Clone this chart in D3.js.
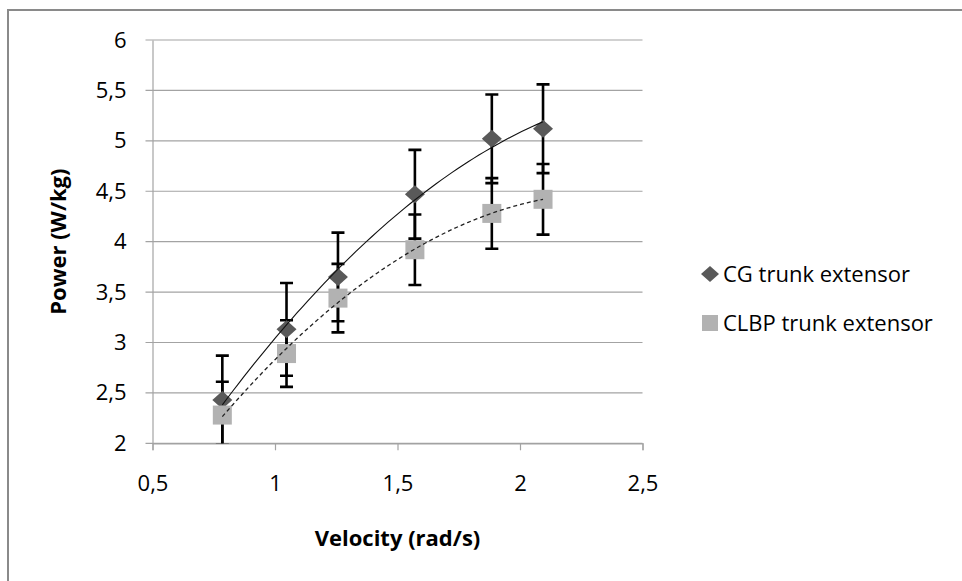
<!DOCTYPE html>
<html>
<head>
<meta charset="utf-8">
<script src="https://cdn.jsdelivr.net/npm/d3@7"></script>
<style>
	body { margin: 0; background: #fff; }
	text { font-family: "Open Sans", sans-serif; fill: #000; }
</style>
</head>
<body>
<div id="chart-area"></div>
<script>

// data
let velocity = [0.785, 1.047, 1.257, 1.571, 1.885, 2.094];
let cgPower = [2.43, 3.13, 3.65, 4.47, 5.02, 5.12];
let cgError = [0.44, 0.46, 0.44, 0.44, 0.44, 0.44];
let clbpPower = [2.28, 2.89, 3.44, 3.92, 4.28, 4.42];
let clbpError = [0.33, 0.33, 0.34, 0.35, 0.35, 0.35];

let seriesNames = ["CG trunk extensor", "CLBP trunk extensor"];

let xTicks = [0.5, 1, 1.5, 2, 2.5];
let xTickLabels = ["0,5", "1", "1,5", "2", "2,5"];
let yTicks = [2, 2.5, 3, 3.5, 4, 4.5, 5, 5.5, 6];
let yTickLabels = ["2", "2,5", "3", "3,5", "4", "4,5", "5", "5,5", "6"];

// margin conventions
let margin = {top: 40, right: 319.5, bottom: 137.7, left: 152.5};
let width = 962 - margin.left - margin.right;
let height = 581 - margin.top - margin.bottom;

let root = d3.select("#chart-area").append("svg")
	.attr("width", 962)
	.attr("height", 581);

// outer chart border (only top and left are inside the picture)
root.append("rect")
	.attr("x", 8)
	.attr("y", 10)
	.attr("width", 980)
	.attr("height", 600)
	.attr("fill", "none")
	.attr("stroke", "#8a8a8a")
	.attr("stroke-width", 2);

let svg = root.append("g")
	.attr("transform", "translate(" + margin.left + "," + margin.top + ")");

// scales
let x = d3.scaleLinear().domain([0.5, 2.5]).range([0, width]);
let y = d3.scaleLinear().domain([2, 6]).range([height, 0]);

// horizontal gridlines
svg.selectAll(".grid")
	.data(yTicks)
	.enter().append("line")
	.attr("class", "grid")
	.attr("x1", -7)
	.attr("x2", width)
	.attr("y1", d => y(d))
	.attr("y2", d => y(d))
	.attr("stroke", "#a3a3a3")
	.attr("stroke-width", 1.2);

// y axis
let yAxis = svg.append("g")
	.attr("class", "y-axis axis")
	.call(d3.axisLeft(y)
		.tickValues(yTicks)
		.tickFormat((d, i) => yTickLabels[i])
		.tickSize(0)
		.tickPadding(26));
yAxis.select(".domain").attr("stroke", "#a3a3a3").attr("stroke-width", 1.2);
yAxis.selectAll("text").style("font-size", "22px");

// x axis
let xAxis = svg.append("g")
	.attr("class", "x-axis axis")
	.attr("transform", "translate(0," + height + ")")
	.call(d3.axisBottom(x)
		.tickValues(xTicks)
		.tickFormat((d, i) => xTickLabels[i])
		.tickSizeInner(7)
		.tickSizeOuter(7)
		.tickPadding(25));
xAxis.select(".domain").attr("stroke", "#a3a3a3").attr("stroke-width", 1.2);
xAxis.selectAll(".tick line").attr("stroke", "#a3a3a3").attr("stroke-width", 1.2);
xAxis.selectAll("text").style("font-size", "22px");

// axis titles
svg.append("text")
	.attr("x", width / 2)
	.attr("y", height + 103)
	.attr("text-anchor", "middle")
	.style("font-size", "22px")
	.style("font-weight", "bold")
	.text("Velocity (rad/s)");

svg.append("text")
	.attr("transform", "translate(" + (-87) + "," + (height / 2) + ") rotate(-90)")
	.attr("text-anchor", "middle")
	.style("font-size", "22px")
	.style("font-weight", "bold")
	.text("Power (W/kg)");

// clip marks to the plot area
svg.append("clipPath")
	.attr("id", "plot-clip")
	.append("rect")
	.attr("x", -20)
	.attr("y", 0)
	.attr("width", width + 40)
	.attr("height", height);

let plot = svg.append("g").attr("clip-path", "url(#plot-clip)");

let cgData = velocity.map((v, i) => ({x: v, y: cgPower[i], e: cgError[i]}));
let clbpData = velocity.map((v, i) => ({x: v, y: clbpPower[i], e: clbpError[i]}));

// error bars
function drawErrorBars(data, cls) {
	let g = plot.selectAll("." + cls)
		.data(data)
		.enter().append("g")
		.attr("class", cls)
		.attr("stroke", "#000")
		.attr("stroke-width", 2.6);
	g.append("line")
		.attr("x1", d => x(d.x)).attr("x2", d => x(d.x))
		.attr("y1", d => y(d.y + d.e)).attr("y2", d => y(d.y - d.e));
	g.append("line")
		.attr("x1", d => x(d.x) - 6.5).attr("x2", d => x(d.x) + 6.5)
		.attr("y1", d => y(d.y + d.e)).attr("y2", d => y(d.y + d.e));
	g.append("line")
		.attr("x1", d => x(d.x) - 6.5).attr("x2", d => x(d.x) + 6.5)
		.attr("y1", d => y(d.y - d.e)).attr("y2", d => y(d.y - d.e));
}
drawErrorBars(cgData, "cg-err");
drawErrorBars(clbpData, "clbp-err");

// markers
let diamond = (w, h) => "M0," + (-h) + "L" + w + ",0L0," + h + "L" + (-w) + ",0Z";

plot.selectAll(".cg-point")
	.data(cgData)
	.enter().append("path")
	.attr("class", "cg-point")
	.attr("transform", d => "translate(" + x(d.x) + "," + y(d.y) + ")")
	.attr("d", diamond(10, 9))
	.attr("fill", "#595959");

plot.selectAll(".clbp-point")
	.data(clbpData)
	.enter().append("rect")
	.attr("class", "clbp-point")
	.attr("x", d => x(d.x) - 9.5)
	.attr("y", d => y(d.y) - 9.5)
	.attr("width", 19)
	.attr("height", 19)
	.attr("fill", "#b2b2b2");

// polynomial (order 2) trendlines, least squares fit
function quadFit(xs, ys) {
	let n = xs.length;
	let s = [0, 0, 0, 0, 0], t = [0, 0, 0];
	xs.forEach((xv, i) => {
		for (let k = 0; k < 5; k++) s[k] += Math.pow(xv, k);
		for (let k = 0; k < 3; k++) t[k] += ys[i] * Math.pow(xv, k);
	});
	let A = [[s[0], s[1], s[2], t[0]], [s[1], s[2], s[3], t[1]], [s[2], s[3], s[4], t[2]]];
	for (let c = 0; c < 3; c++) {
		for (let r = c + 1; r < 3; r++) {
			let f = A[r][c] / A[c][c];
			for (let k = c; k < 4; k++) A[r][k] -= f * A[c][k];
		}
	}
	let coef = [0, 0, 0];
	for (let r = 2; r >= 0; r--) {
		let v = A[r][3];
		for (let k = r + 1; k < 3; k++) v -= A[r][k] * coef[k];
		coef[r] = v / A[r][r];
	}
	return xv => coef[0] + coef[1] * xv + coef[2] * xv * xv;
}

let line = d3.line().x(d => x(d[0])).y(d => y(d[1]));
let xs = d3.range(0, 61).map(i => velocity[0] + (velocity[5] - velocity[0]) * i / 60);

let cgFit = quadFit(velocity, cgPower);
let clbpFit = quadFit(velocity, clbpPower);

plot.append("path")
	.attr("class", "trend cg")
	.attr("d", line(xs.map(v => [v, cgFit(v)])))
	.attr("fill", "none")
	.attr("stroke", "#111")
	.attr("stroke-width", 1.1);

plot.append("path")
	.attr("class", "trend clbp")
	.attr("d", line(xs.map(v => [v, clbpFit(v)])))
	.attr("fill", "none")
	.attr("stroke", "#222")
	.attr("stroke-width", 1.3)
	.attr("stroke-dasharray", "4,3");

// legend
let legend = root.append("g").attr("class", "legend");

legend.append("path")
	.attr("transform", "translate(710,274)")
	.attr("d", diamond(9, 8))
	.attr("fill", "#595959");
legend.append("rect")
	.attr("x", 702)
	.attr("y", 315)
	.attr("width", 16)
	.attr("height", 16)
	.attr("fill", "#b2b2b2");

legend.selectAll(".legend-label")
	.data(seriesNames)
	.enter().append("text")
	.attr("class", "legend-label")
	.attr("x", 723)
	.attr("y", (d, i) => 274 + i * 49)
	.attr("dy", "0.35em")
	.style("font-size", "22px")
	.text(d => d);

</script>
</body>
</html>
